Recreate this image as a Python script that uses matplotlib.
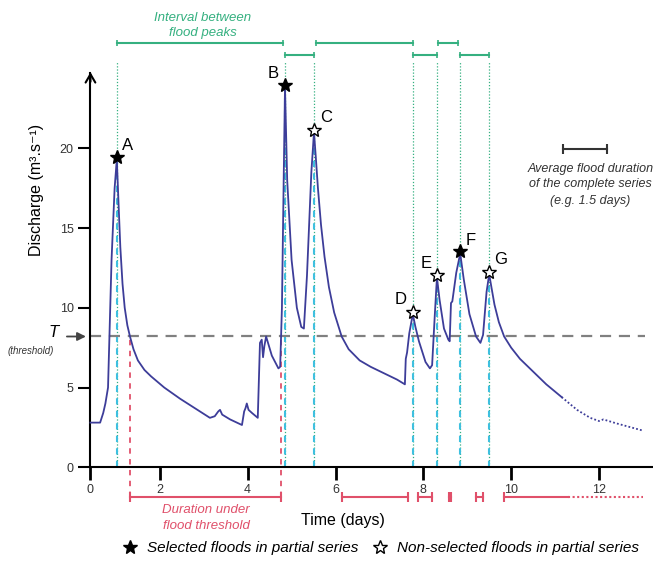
import matplotlib.pyplot as plt
import numpy as np

plt.rcParams['font.family'] = ['Liberation Sans', 'DejaVu Sans']

# Hydrograph (days, m3/s)
time = [0.42, 0.55, 0.64, 0.71, 0.76, 0.82, 0.90, 0.97, 1.02, 1.06, 1.10, 1.15, 1.20,
        1.26, 1.32, 1.40, 1.50, 1.65, 1.80, 2.10, 2.46, 2.80, 3.14, 3.25, 3.33, 3.37,
        3.42, 3.60, 3.87, 3.92, 3.95, 3.98, 4.02, 4.10, 4.23, 4.28, 4.32, 4.35, 4.38,
        4.42, 4.55, 4.70, 4.74, 4.78, 4.82, 4.85, 4.90, 5.00, 5.12, 5.22, 5.28, 5.35,
        5.45, 5.51, 5.55, 5.60, 5.67, 5.75, 5.85, 5.97, 6.14, 6.30, 6.55, 6.80, 7.10,
        7.40, 7.58, 7.60, 7.63, 7.68, 7.76, 7.82, 7.90, 8.05, 8.15, 8.20, 8.26, 8.31,
        8.37, 8.47, 8.57, 8.60, 8.63, 8.66, 8.75, 8.84, 8.92, 9.05, 9.20, 9.30, 9.36,
        9.44, 9.50, 9.55, 9.62, 9.72, 9.84, 10.0, 10.2, 10.5, 10.8, 11.15]
discharge = [2.8, 2.8, 2.8, 3.4, 4.0, 5.0, 13.0, 17.5, 19.3, 16.5, 13.8, 11.5, 10.0,
             8.9, 8.2, 7.4, 6.7, 6.1, 5.7, 5.0, 4.3, 3.7, 3.1, 3.2, 3.5, 3.6,
             3.3, 3.0, 2.65, 3.5, 3.7, 4.0, 3.6, 3.4, 3.1, 7.8, 8.0, 6.9, 7.6,
             8.2, 7.0, 6.2, 6.3, 10.0, 18.0, 23.8, 18.0, 13.0, 10.0, 8.8, 8.7, 12.0,
             18.5, 21.0, 19.5, 17.5, 15.2, 13.2, 11.3, 9.7, 8.2, 7.4, 6.7, 6.3, 5.9,
             5.5, 5.2, 6.8, 7.2, 8.4, 9.6, 8.8, 7.9, 6.6, 6.2, 6.4, 9.5, 11.9,
             10.5, 8.7, 8.0, 7.9, 10.3, 10.4, 12.2, 13.4, 11.8, 9.6, 8.2, 7.8, 8.3,
             11.0, 12.1, 11.3, 10.2, 9.1, 8.2, 7.5, 6.8, 6.0, 5.2, 4.4]
# extrapolated tail (dotted)
tail_time = [11.15, 11.5, 11.8, 12.0, 12.1, 12.4, 12.8, 13.0]
tail_discharge = [4.4, 3.6, 3.1, 2.9, 3.0, 2.75, 2.45, 2.3]

threshold = 8.2

peak_labels = ['A', 'B', 'C', 'D', 'E', 'F', 'G']
peak_time = [1.02, 4.85, 5.51, 7.76, 8.31, 8.84, 9.50]
peak_q = [19.3, 23.8, 21.0, 9.6, 11.9, 13.4, 12.1]
peak_selected = [True, True, False, False, False, True, False]
label_offsets = [(11, 12), (-12, 12), (12, 12), (-12, 12), (-11, 12), (10, 11), (11, 12)]

# green brackets between peaks: (start, end, row)
interval_starts = [1.02, 4.85, 5.55, 7.76, 8.33, 8.84]
interval_ends = [4.81, 5.51, 7.76, 8.31, 8.80, 9.50]
interval_rows = [26.6, 25.85, 26.6, 25.85, 26.6, 25.85]

# red durations under threshold
under_starts = [1.32, 6.14, 7.87, 8.58, 9.20, 9.84]
under_ends = [4.76, 7.66, 8.19, 8.62, 9.36, 11.3]

x_ticks = [0.42, 2, 4, 6, 8, 10, 12]
x_tick_labels = ['0', '2', '4', '6', '8', '10', '12']
y_ticks = [0, 5, 10, 15, 20]

green = '#35b080'
cyan = '#3ec0e0'
red = '#e0506a'
navy = '#3d3d99'

fig = plt.figure(figsize=(6.53, 5.62), dpi=100)
ax = fig.add_axes([0, 0, 1, 1])
ax.set_xlim(-1.64, 13.23)
ax.set_ylim(-5.94, 29.3)

# axes
for side in ['top', 'right']:
    ax.spines[side].set_visible(False)
ax.spines['left'].set_position(('data', 0.42))
ax.spines['left'].set_bounds(0, 24.7)
ax.spines['bottom'].set_position(('data', 0))
ax.spines['bottom'].set_bounds(0.42, 13.2)
ax.spines['left'].set_linewidth(1.5)
ax.spines['bottom'].set_linewidth(1.5)
ax.annotate('', xy=(0.42, 24.95), xytext=(0.42, 24.0),
            arrowprops=dict(arrowstyle='->,head_width=0.35,head_length=0.6', lw=1.5, color='black'))
ax.annotate('', xy=(13.3, 0), xytext=(12.9, 0),
            arrowprops=dict(arrowstyle='->,head_width=0.35,head_length=0.6', lw=1.5, color='black'))

ax.set_xticks(x_ticks, x_tick_labels)
ax.set_yticks(y_ticks)
ax.tick_params(axis='x', length=9, width=2, pad=3, labelsize=9, labelcolor='#333333')
ax.tick_params(axis='y', length=9, width=1.5, pad=3, labelsize=9, labelcolor='#333333')

ax.set_ylabel('Discharge (m³.s⁻¹)', fontsize=11.5)
ax.yaxis.set_label_coords(0.067, 0.662)
ax.set_xlabel('Time (days)', fontsize=11.5)
ax.xaxis.set_label_coords(0.525, 0.087)

# green verticals and brackets
for t in peak_time:
    ax.plot([t, t], [0, 25.5], color=green, lw=0.9, ls=(0, (1, 1.5)))
for t, q in zip(peak_time, peak_q):
    ax.plot([t, t], [0, q], color=cyan, lw=1.5, ls=(0, (3, 3)))
for s, e, r in zip(interval_starts, interval_ends, interval_rows):
    ax.plot([s, e], [r, r], color=green, lw=1.5)
    ax.plot([s, e], [r, r], ls='none', marker='|', ms=4, mew=1.2, color=green)
ax.text(2.98, 28.2, 'Interval between', color=green, fontsize=9.5, style='italic',
        ha='center', va='center')
ax.text(2.98, 27.25, 'flood peaks', color=green, fontsize=9.5, style='italic',
        ha='center', va='center')

# threshold
ax.plot([0.42, 13.05], [threshold, threshold], color='#808080', lw=1.6, ls=(0, (5, 3.5)))
ax.annotate('', xy=(0.38, threshold), xytext=(-0.18, threshold),
            arrowprops=dict(arrowstyle='-|>,head_width=0.25,head_length=0.5', lw=1.3,
                            color='#444444'))
ax.text(-0.43, 8.45, 'T', fontsize=12, style='italic', ha='center', va='center')
ax.text(-0.95, 7.3, '(threshold)', fontsize=7, style='italic', ha='center', va='center',
        color='#333333')

# red durations
for t in [under_starts[0], under_ends[0]]:
    ax.plot([t, t], [-1.86, threshold], color=red, lw=1.3, ls=(0, (3, 3)))
for i, (s, e) in enumerate(zip(under_starts, under_ends)):
    ax.plot([s, e], [-1.86, -1.86], color=red, lw=1.5)
    ax.plot([s], [-1.86], ls='none', marker='|', ms=7, mew=1.5, color=red)
    if i < len(under_starts) - 1:
        ax.plot([e], [-1.86], ls='none', marker='|', ms=7, mew=1.5, color=red)
ax.plot([under_ends[-1], 13.0], [-1.86, -1.86], color=red, lw=1.5, ls=(0, (1, 1.2)))
ax.text(3.05, -2.7, 'Duration under', color=red, fontsize=9.5, style='italic',
        ha='center', va='center')
ax.text(3.05, -3.7, 'flood threshold', color=red, fontsize=9.5, style='italic',
        ha='center', va='center')

# hydrograph
ax.plot(time, discharge, color=navy, lw=1.3, zorder=5)
ax.plot(tail_time, tail_discharge, color=navy, lw=1.3, ls=(0, (1, 1.2)), zorder=5)

for lab, t, q, sel, off in zip(peak_labels, peak_time, peak_q, peak_selected, label_offsets):
    ax.plot(t, q + 0.15, marker='*', ms=10, mec='black', mew=1.0,
            mfc='black' if sel else 'white', zorder=6)
    ax.annotate(lab, (t, q + 0.15), xytext=off, textcoords='offset pixels',
                fontsize=12, ha='center', va='center')

# average flood duration example
ax.plot([11.18, 12.19], [19.93, 19.93], color='#333333', lw=1.5)
ax.plot([11.18, 12.19], [19.93, 19.93], ls='none', marker='|', ms=7, mew=1.5, color='#333333')
for y, s in zip([18.7, 17.75, 16.7],
                ['Average flood duration', 'of the complete series', '(e.g. 1.5 days)']):
    ax.text(11.8, y, s, fontsize=9, style='italic', ha='center', va='center', color='#333333')

# legend
h1 = plt.Line2D([], [], ls='none', marker='*', ms=10, mfc='black', mec='black')
h2 = plt.Line2D([], [], ls='none', marker='*', ms=10, mfc='white', mec='black')
ax.legend([h1, h2], ['Selected floods in partial series', 'Non-selected floods in partial series'],
          ncol=2, frameon=False, loc='center', bbox_to_anchor=(0.582, 0.025),
          prop={'style': 'italic', 'size': 11}, handletextpad=0.5, columnspacing=0.8,
          handlelength=1.2)

fig.savefig('out.png', dpi=100)
